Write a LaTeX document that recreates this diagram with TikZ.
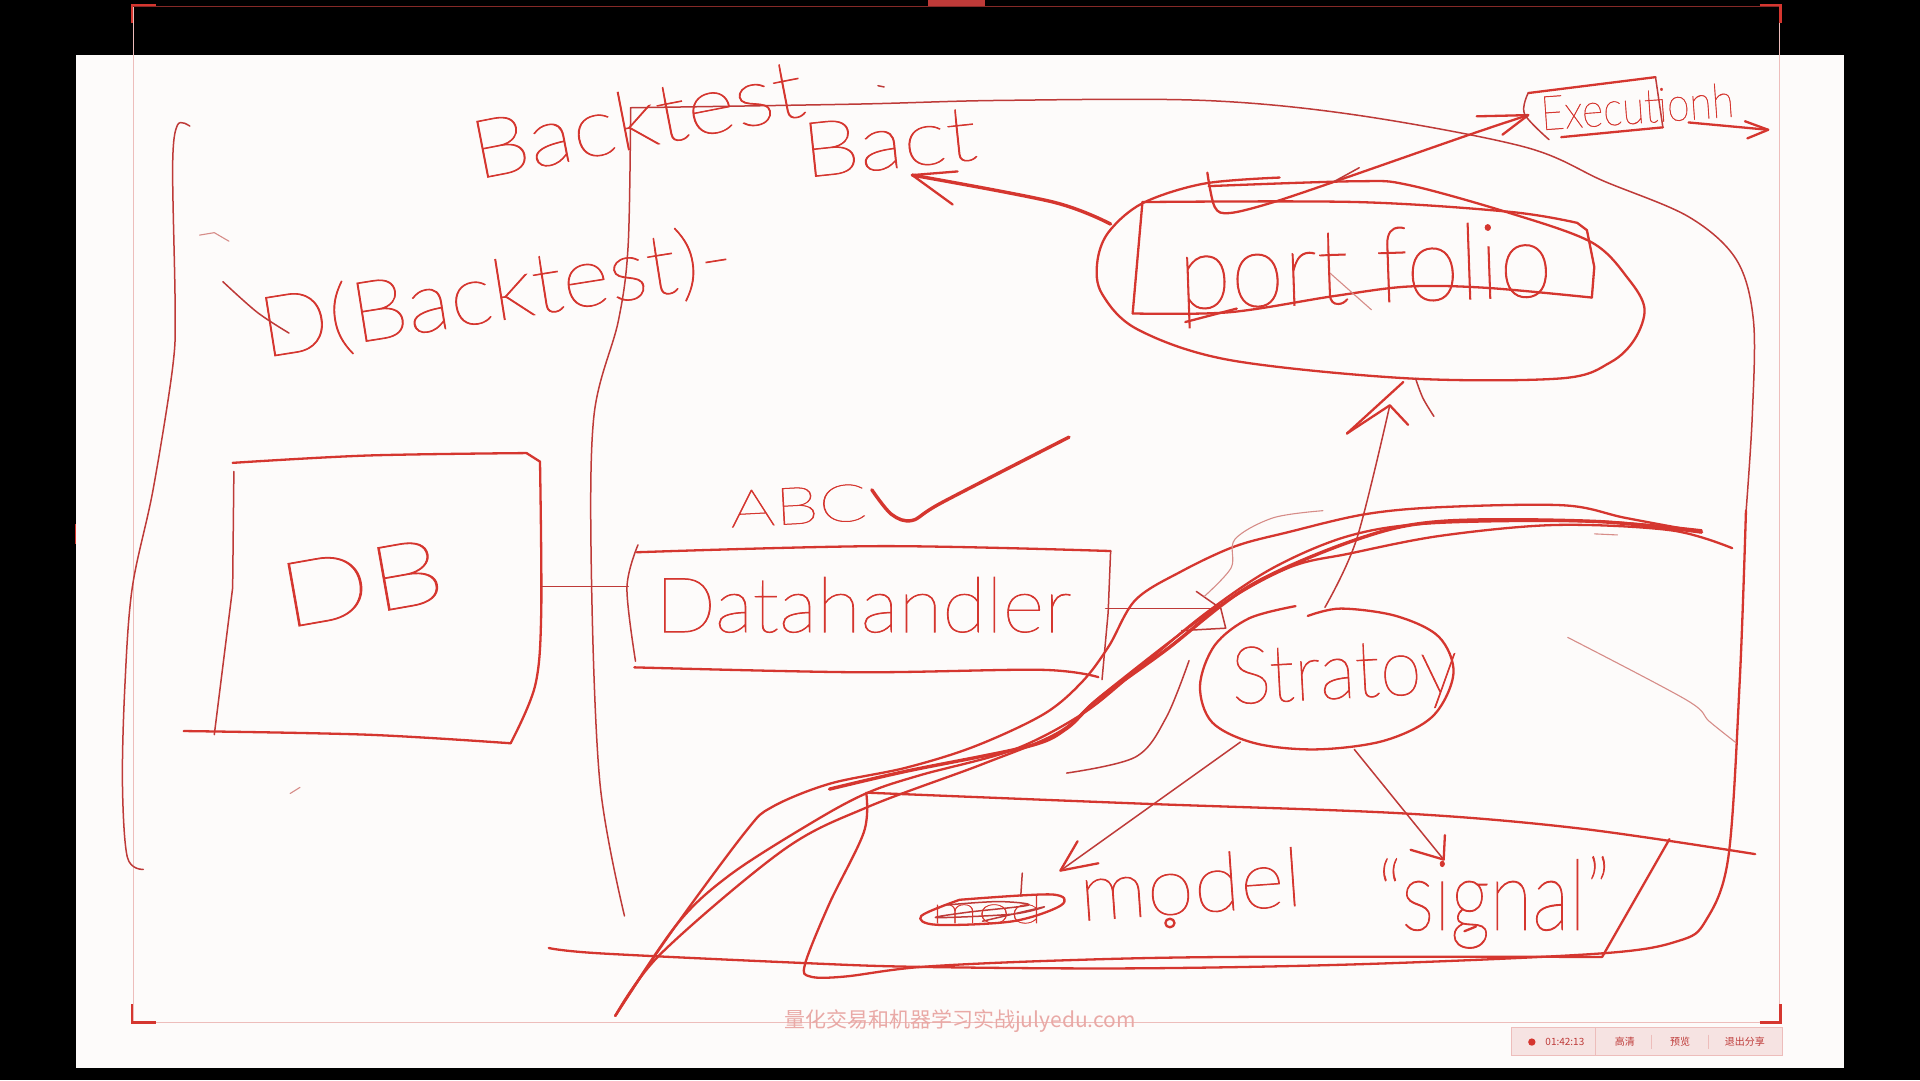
\documentclass[tikz,border=0pt]{standalone}
\usepackage{graphicx}
\usepackage{fontspec}
\newfontfamily\handf{Lato Thin}[FakeBold=0.9]
\newfontfamily\cjkf{Noto Sans CJK SC}
\definecolor{ink}{HTML}{D5362F}
\definecolor{inkdark}{HTML}{BE3A38}
\definecolor{inkpale}{HTML}{D68C88}
\definecolor{paper}{HTML}{FDFBFA}
\definecolor{framec}{HTML}{EDBDBB}
\definecolor{wm}{HTML}{E9A9A6}
\definecolor{bar}{HTML}{F6E3E2}
\newlength\ux \ux=1.2245pt
\tikzset{
  pen/.style={draw=ink,line width=2.3pt,line cap=round,line join=round},
  thin pen/.style={draw=inkdark,line width=1.5pt,line cap=round,line join=round},
  pale pen/.style={draw=inkpale,line width=1.1pt,line cap=round,line join=round},
  fat pen/.style={draw=ink,line width=3.4pt,line cap=round,line join=round},
  hw/.style={inner sep=0pt,text=ink},
  barlabel/.style={inner sep=0pt,text=inkdark,font=\cjkf\fontsize{10}{10}\selectfont}
}
% name, x, y, angle, width, height, text
\newcommand{\hand}[7]{\node[hw,rotate=#4] (#1) at (#2,#3) {\resizebox{#5\ux}{#6\ux}{\handf #7}};}
\newcommand{\st}[2][pen]{\draw[#1] plot[smooth,tension=.55] coordinates {#2};}
\newcommand{\sgm}[2][pen]{\draw[#1] plot coordinates {#2};}
\begin{document}
\begin{tikzpicture}[x=1.2245pt,y=-1.2245pt]
\useasboundingbox (0,0) rectangle (1568,882);
\fill[black] (0,0) rectangle (1568,882);
\fill[paper] (62,45) rectangle (1506,872);
% recording frame
\draw[framec,line width=1pt] (109,5) -- (109,835) -- (1453,835) -- (1453,5);
\draw[inkdark!70!black,line width=.8pt] (109,5) -- (1453,5);
\fill[inkdark] (758,0) rectangle (804,5);
\draw[ink,line width=2.4pt] (108,19) -- (108,4) -- (127,4);
\draw[ink,line width=2.4pt] (1437,4) -- (1454,4) -- (1454,19);
\draw[ink,line width=2.4pt] (108,820) -- (108,835) -- (127,835);
\draw[ink,line width=2.4pt] (1437,835) -- (1454,835) -- (1454,820);
\draw[ink,line width=1pt] (62,428) -- (62,444);

% anchor points of connectors
\coordinate (dbR) at (442,479);
\coordinate (dhL) at (513,479);
\coordinate (dhR) at (903,497);
\coordinate (pfL) at (907,183);
\coordinate (baH) at (745,143);
\coordinate (stT) at (1082,496);
\coordinate (pfB) at (1135,331);
\coordinate (stBL) at (1013,606);
\coordinate (moH) at (866,711);
\coordinate (stBR) at (1106,612);
\coordinate (siH) at (1179,702);
\coordinate (exL) at (1248,94);
\coordinate (exR1) at (1379,100);
\coordinate (exR2) at (1444,106);

% left bracket, inner frame
\st[thin pen]{(155,103) (145,102) (141,135) (143,250) (141,300) (125,400) (108,480) (102,560) (100,640) (104,700) (117,710)}
\st[thin pen]{(515,88) (513,200) (505,262) (485,340) (483,470) (490,640) (510,748)}
\st[thin pen]{(515,88) (700,85) (817,82) (983,82) (1108,94) (1245,120) (1310,148) (1379,177) (1418,212) (1432,262) (1431,340) (1426,417)}

% DB box
\st{(190,378) (300,372) (430,370)}
\sgm{(430,370) (441,377)}
\st[pen]{(441,377) (442,500) (437,560) (417,607)}
\sgm[thin pen]{(191,385) (190,480) (175,600)}
\st{(150,597) (300,600) (417,607)}
\draw[thin pen] (dbR) -- (dhL);

% Datahandler box
\st[thin pen]{(521,445) (512,480) (519,540)}
\st{(520,451) (720,446) (907,450)}
\sgm[thin pen]{(907,450) (905,500) (900,555)}
\st{(518,545) (700,549) (850,547) (897,553)}

% portfolio ellipse and box
\st{(987,152) (1108,148) (1150,151) (1233,174) (1300,198) (1330,228) (1343,252) (1335,277) (1315,296) (1275,309) (1150,309) (1004,294) (929,269) (900,240) (896,215) (905,190) (933,166) (983,150) (1045,145)}
\st{(933,165) (1108,165) (1233,173) (1288,182)}
\sgm{(1288,182) (1296,188) (1302,218) (1300,243)}
\st{(1300,243) (1213,235) (1150,234) (1088,242) (1004,255) (925,256)}
\sgm{(925,256) (933,165)}
\st[pen]{(986,141) (992,169) (1004,174) (1037,166) (1088,149) (1200,110) (exL)}
\sgm{(1206,95) (exL) (1227,110)}
\sgm[thin pen]{(1090,148) (1110,137)}
\sgm[pen]{(968,263) (1010,252)}
\sgm[pale pen]{(1085,222) (1120,253)}
% Execution box
\st{(1248,76) (1352,63)}
\st[thin pen]{(1248,76) (1245,93) (1265,114)}
\sgm[thin pen]{(1352,63) (1358,104)}
\st{(1275,112) (1358,104)}
\draw[pen] (exR1) -- (exR2);
\sgm{(1425,99) (exR2) (1427,113)}

% Portfolio to Bact
\st[fat pen]{(pfL) (860,165) (baH)}
\sgm[pen]{(782,140) (baH) (778,167)}

% Strategy circle and arrows
\st{(1058,495) (1020,505) (992,527) (980,560) (990,590) (1025,607) (1075,612) (1130,605) (1170,585) (1187,550) (1175,520) (1140,503) (1095,497) (1068,503)}
\st[thin pen]{(stT) (1108,440) (pfB)}
\sgm{(1100,354) (pfB) (1150,347)}
\sgm{(1100,354) (1146,312)}
\st[thin pen]{(1156,309) (1162,325) (1171,340)}
\draw[thin pen] (stBL) -- (moH);
\sgm{(880,687) (moH) (897,705)}
\draw[thin pen] (stBR) -- (siH);
\sgm{(1180,682) (siH) (1152,694)}
\draw[thin pen] (dhR) -- (997,497);
\sgm[thin pen]{(977,483) (997,497) (1001,513) (965,515)}

% swooshes and lower box, read from a close-up
\begin{scope}[shift={(490,408.3)},x=0.765pt,y=-0.357pt]
\st{(20,1445) (90,1220) (190,930) (225,860) (300,795) (400,750) (490,690) (580,600) (630,510) (665,410) (700,280) (760,200) (830,130) (900,90) (1000,40) (1100,20) (1260,15) (1340,50) (1440,90)}
\st{(20,1445) (100,1190) (170,1050) (280,900) (350,820) (420,770) (540,700) (630,600) (700,480) (790,320) (880,190) (980,100) (1090,65) (1300,60) (1440,85)}
\st{(20,1445) (80,1270) (240,980) (350,860) (500,740) (600,650) (660,540) (800,310) (900,190) (980,150) (1100,100) (1250,70) (1400,85) (1480,135)}
\st[fat pen]{(300,810) (400,760) (560,690) (610,640) (650,560) (740,420) (850,240) (990,110) (1100,60) (1300,60) (1440,90)}
\st[pen]{(350,820) (700,850) (1050,878) (1280,920) (1510,992)}
\st[pen]{(348,820) (345,930) (300,1130) (268,1300) (275,1335) (320,1335) (420,1308) (600,1290) (830,1280) (1310,1280)}
\sgm[pen]{(1398,950) (1310,1280)}
\st[pen]{(-67,1255) (0,1270) (265,1297) (420,1308) (700,1312) (1000,1300) (1310,1270) (1410,1235) (1445,1180) (1475,1000) (1490,500) (1498,30)}
\st[pale pen]{(945,30) (880,50) (830,110) (825,190) (790,270)}
\st[thin pen]{(770,450) (740,610) (700,720) (610,765)}
\st[pale pen]{(1265,385) (1420,560) (1450,620) (1485,680)}
\sgm[pale pen]{(1300,95) (1330,98)}
% scribble over the struck word
\st[pen]{(470,1120) (590,1105) (603,1135) (540,1180) (440,1190) (420,1165) (470,1120)}
\st[thin pen]{(450,1135) (520,1125) (560,1135) (480,1155) (440,1170) (540,1160) (580,1140) (500,1180)}
\sgm[thin pen]{(552,1045) (550,1110)}
\draw[pen] (745,1185) circle [x radius=6,y radius=12];
\sgm[pen]{(1130,1208) (1145,1195)}
\end{scope}

% handwriting
\hand{backtest}{520}{97}{11}{275}{48}{Backtest}
\hand{dbacktest}{405}{240}{9}{390}{52}{D(Backtest)-}
\hand{bact}{726}{116}{6}{143}{44}{Bact}
\hand{execution}{1337}{87}{4}{158}{28}{Executionh}
\hand{portfolio}{1115}{224}{2}{305}{62}{port folio}
\hand{abc}{652}{413}{3}{112}{30}{ABC}
\hand{datahandler}{705}{494}{0}{340}{45}{Datahandler}
\hand{db}{295}{476}{10}{135}{52}{DB}
\hand{strategy}{1098}{553}{3}{185}{46}{Stratoy}
\hand{model}{972}{722}{4}{182}{48}{model}
\hand{signal}{1220}{737}{0}{190}{60}{“signal”}
\hand{struck}{806}{743}{0}{90}{22}{mod}
\st[thin pen]{(182,230) (210,255) (236,272)}
\sgm[pale pen]{(163,192) (175,190) (187,197)}
\sgm[pale pen]{(237,648) (245,643)}
\sgm[thin pen]{(717,70) (722,71)}
\st[fat pen]{(712,400) (728,420) (745,425) (770,410) (873,357)}

% watermark and status bar
\node[inner sep=0pt,text=wm,font=\cjkf\fontsize{21}{21}\selectfont] (watermark) at (784,834) {量化交易和机器学习实战julyedu.com};
\fill[bar] (1234,839) rectangle (1456,862);
\draw[framec,line width=1pt] (1234,839) rectangle (1456,862);
\draw[framec,line width=1pt] (1303,839) -- (1303,862);
\draw[framec,line width=1pt] (1349,845) -- (1349,857);
\draw[framec,line width=1pt] (1395,845) -- (1395,857);
\fill[ink] (1251,851) circle (3);
\node[barlabel] (timer) at (1278,851) {01:42:13};
\node[barlabel] (hd) at (1327,851) {高清};
\node[barlabel] (preview) at (1372,851) {预览};
\node[barlabel] (quit) at (1425,851) {退出分享};
\end{tikzpicture}
\end{document}
